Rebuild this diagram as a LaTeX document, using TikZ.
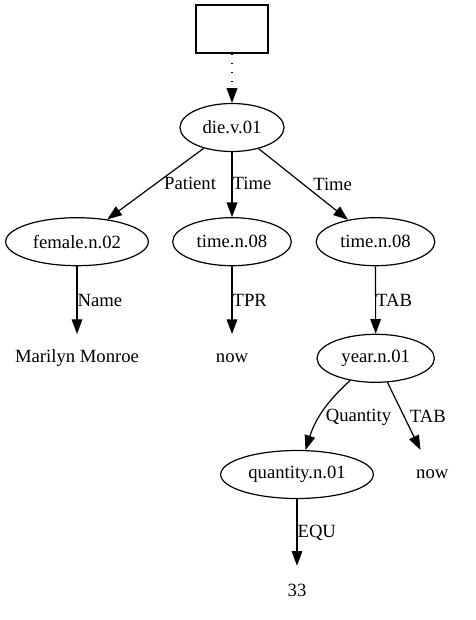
\documentclass[tikz,border=0pt]{standalone}
\usepackage{fontspec}
\setmainfont{Liberation Serif}
\usetikzlibrary{shapes.geometric, arrows.meta}
\tikzset{
x=0.75pt, y=-0.75pt, % one unit is one pixel, y runs downward
>={Triangle[length=11pt, width=8pt]}, % filled arrow heads
every edge/.style={draw, ->, line width=0.9pt}, % all edges are directed
sense/.style={ellipse, draw, line width=0.9pt, inner sep=0pt, minimum height=36pt}, % concept nodes
word/.style={rectangle, inner sep=0pt, minimum width=54pt, minimum height=36pt}, % plain text nodes
lbl/.style={anchor=west, inner sep=0pt}, % edge labels
}

\begin{document}
\begin{tikzpicture}[font=\fontsize{14pt}{16pt}\selectfont]
\useasboundingbox (0,0) rectangle (475,620);
\node[draw, line width=0.9pt, minimum width=54pt, minimum height=36pt, inner sep=0pt] (box) at (232,29) {};
\node[sense, minimum width=78pt] (die) at (232,127.5) {die.v.01};
\node[sense, minimum width=107pt] (fem) at (77,241.7) {female.n.02};
\node[sense, minimum width=89pt] (time1) at (232,241.7) {time.n.08};
\node[sense, minimum width=89pt] (time2) at (375.5,241.7) {time.n.08};
\node[word] (mm) at (77,358.3) {Marilyn Monroe};
\node[word] (now1) at (232,358.3) {now};
\node[sense, minimum width=88pt] (year) at (375.7,358.3) {year.n.01};
\node[sense, minimum width=114.5pt] (qty) at (297,474.5) {quantity.n.01};
\node[word] (now2) at (432.3,474.3) {now};
\node[word] (num) at (297,590) {33};
\draw (box) edge[dash pattern=on 0.9pt off 6pt] (die)
(die) edge node[lbl, xshift=6pt]{Patient} (fem)
(die) edge node[lbl, yshift=1pt]{Time} (time1)
(die) edge node[lbl, xshift=7pt]{Time} (time2)
(fem) edge node[lbl]{Name} (mm)
(time1) edge node[lbl]{TPR} (now1)
(time2) edge node[lbl]{TAB} (year)
(year) edge[bend right=15] node[lbl, xshift=2pt, yshift=-4pt]{Quantity} (qty)
(year) edge node[lbl, xshift=4pt]{TAB} (now2)
(qty) edge node[lbl]{EQU} (num);
\end{tikzpicture}
\end{document}
